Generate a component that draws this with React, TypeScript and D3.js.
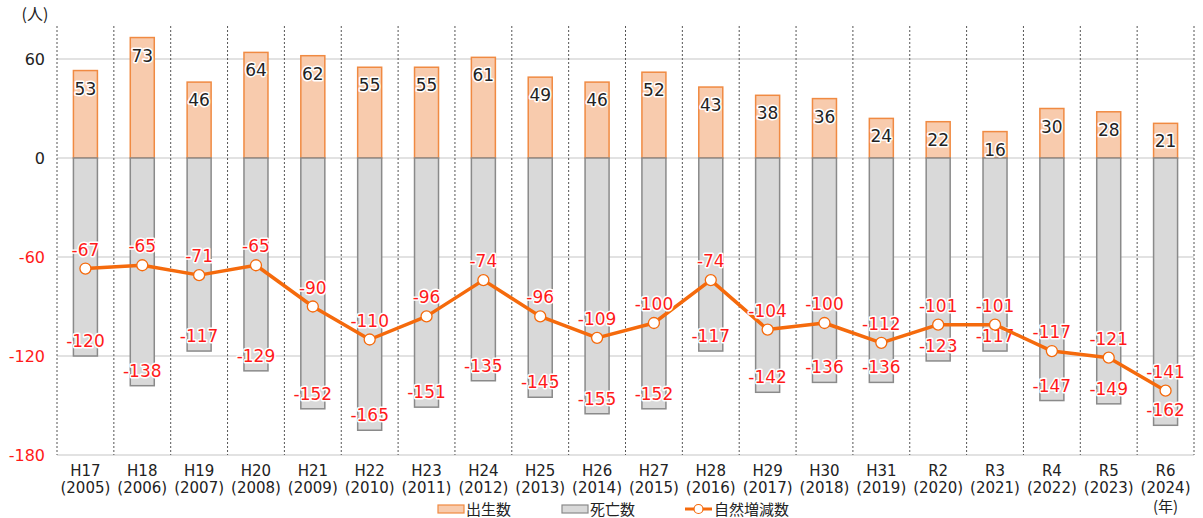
import React from "react";
import * as d3 from "d3";

const eraLabels = ["H17","H18","H19","H20","H21","H22","H23","H24","H25","H26","H27","H28","H29","H30","H31","R2","R3","R4","R5","R6"];
const yearLabels = ["2005","2006","2007","2008","2009","2010","2011","2012","2013","2014","2015","2016","2017","2018","2019","2020","2021","2022","2023","2024"];
const births = [53,73,46,64,62,55,55,61,49,46,52,43,38,36,24,22,16,30,28,21];
const deaths = [-120,-138,-117,-129,-152,-165,-151,-135,-145,-155,-152,-117,-142,-136,-136,-123,-117,-147,-149,-162];
const natural = [-67,-65,-71,-65,-90,-110,-96,-74,-96,-109,-100,-74,-104,-100,-112,-101,-101,-117,-121,-141];
const yTicks = [60, 0, -60, -120, -180];

const W = 1203, H = 518;
const left = 57, right = 1194, top = 26, bottom = 455;
const CJK = "'Noto Sans CJK JP', 'Noto Sans', sans-serif";
const NUM = "'DejaVu Sans', 'Noto Sans CJK JP', sans-serif";
const RED = "#ff1a1a";
const DARK = "#222";
const ORANGE = "#f56a0c";

export default function App() {
  const x = d3.scaleBand<number>().domain(d3.range(eraLabels.length)).range([left, right]).paddingInner(0).paddingOuter(0);
  const y = d3.scaleLinear().domain([-180, 80]).range([bottom, top]);
  const bw = 24;
  const cx = (i: number) => (x(i) as number) + x.bandwidth() / 2;
  const line = d3.line<number>().x((_, i) => cx(i)).y((d) => y(d));
  const halo = { paintOrder: "stroke" as const, stroke: "#fff", strokeWidth: 3, strokeLinejoin: "round" as const };

  return (
    <svg width={W} height={H} style={{ position: "absolute", left: 0, top: 0, background: "#fff" }} fontFamily={NUM}>
      {yTicks.map((t) => (
        <line key={"g" + t} x1={left} x2={right} y1={y(t)} y2={y(t)} stroke="#d9d9d9" strokeWidth={1.5} />
      ))}
      {d3.range(eraLabels.length + 1).map((i) => {
        const xx = i === eraLabels.length ? right : (x(i) as number);
        return <line key={"v" + i} x1={xx} x2={xx} y1={top} y2={bottom} stroke="#555" strokeWidth={1} strokeDasharray="2,2" />;
      })}
      {yTicks.map((t) => (
        <text key={"t" + t} x={45} y={y(t)} dy="0.35em" textAnchor="end" fontSize={16} fill={t < 0 ? RED : DARK}>{t}</text>
      ))}
      <text x={35} y={20} textAnchor="middle" fontSize={16} fill={DARK} fontFamily={CJK}>(人)</text>
      {births.map((v, i) => (
        <rect key={"b" + i} x={cx(i) - bw / 2} y={y(v)} width={bw} height={y(0) - y(v)} fill="#f8cbad" stroke="#f08a42" strokeWidth={1.5} />
      ))}
      {deaths.map((v, i) => (
        <rect key={"d" + i} x={cx(i) - bw / 2} y={y(0)} width={bw} height={y(v) - y(0)} fill="#d9d9d9" stroke="#8a8a8a" strokeWidth={1.5} />
      ))}
      {births.map((v, i) => (
        <text key={"bl" + i} x={cx(i)} y={y(v) + 24} textAnchor="middle" fontSize={17} fill={DARK} {...halo}>{v}</text>
      ))}
      {deaths.map((v, i) => (
        <text key={"dl" + i} x={cx(i)} y={y(v) - 9} textAnchor="middle" fontSize={17} fill={RED} {...halo}>{v}</text>
      ))}
      <path d={line(natural) || ""} fill="none" stroke={ORANGE} strokeWidth={3.5} strokeLinejoin="round" />
      {natural.map((v, i) => (
        <circle key={"c" + i} cx={cx(i)} cy={y(v)} r={5.5} fill="#fff" stroke={ORANGE} strokeWidth={1.3} />
      ))}
      {natural.map((v, i) => (
        <text key={"nl" + i} x={cx(i)} y={y(v) - 13} textAnchor="middle" fontSize={17} fill={RED} {...halo}>{v}</text>
      ))}
      {eraLabels.map((e, i) => (
        <g key={"x" + i}>
          <text x={cx(i)} y={476} textAnchor="middle" fontSize={15} fill={DARK}>{e}</text>
          <text x={cx(i)} y={493} textAnchor="middle" fontSize={15} fill={DARK}>({yearLabels[i]})</text>
        </g>
      ))}
      <text x={cx(eraLabels.length - 1)} y={512} textAnchor="middle" fontSize={15} fill={DARK} fontFamily={CJK}>(年)</text>
      <rect x={438} y={505} width={26} height={8} fill="#f8cbad" stroke="#f08a42" strokeWidth={1.2} />
      <text x={466} y={515} fontSize={15} fill={DARK} fontFamily={CJK}>出生数</text>
      <rect x={562} y={505} width={26} height={8} fill="#d9d9d9" stroke="#8a8a8a" strokeWidth={1.2} />
      <text x={590} y={515} fontSize={15} fill={DARK} fontFamily={CJK}>死亡数</text>
      <line x1={685} x2={712} y1={509} y2={509} stroke={ORANGE} strokeWidth={3} />
      <circle cx={698.5} cy={509} r={4.5} fill="#fff" stroke={ORANGE} strokeWidth={1.2} />
      <text x={714} y={515} fontSize={15} fill={DARK} fontFamily={CJK}>自然増減数</text>
    </svg>
  );
}
